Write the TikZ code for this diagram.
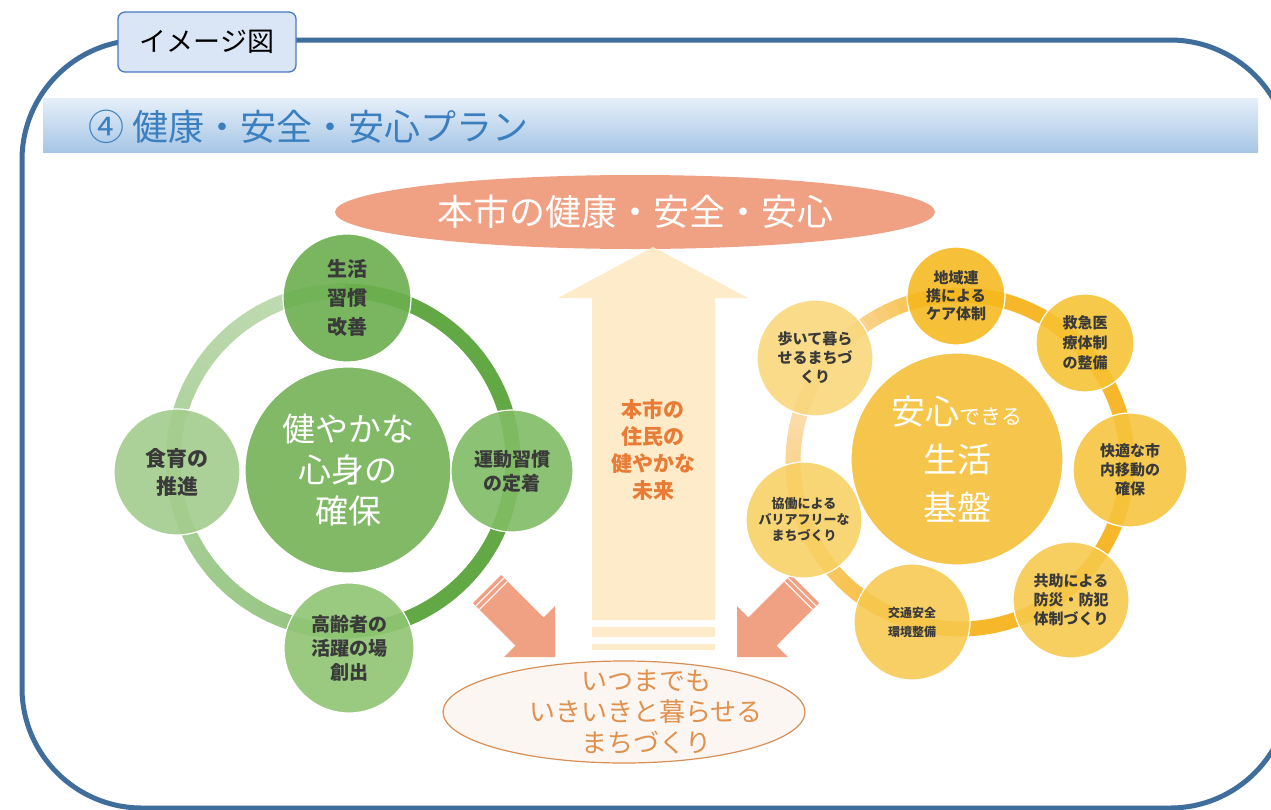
\documentclass[tikz,border=0pt]{standalone}
\usepackage{fontspec}
\setmainfont{Noto Sans CJK JP}
\usetikzlibrary{shapes.geometric}
\definecolor{frameblue}{HTML}{3F6E9C}
\definecolor{labelfill}{HTML}{DAE5F5}
\definecolor{labeledge}{HTML}{4A78C2}
\definecolor{titleblue}{HTML}{3B7FBE}
\definecolor{bannertop}{HTML}{E6EFF9}
\definecolor{bannerbot}{HTML}{A6C6E6}
\definecolor{salmon}{HTML}{F1A183}
\definecolor{arrowyel}{HTML}{FDEBC9}
\definecolor{arroworange}{HTML}{E87B35}
\definecolor{botfill}{HTML}{FBF6F2}
\definecolor{botedge}{HTML}{D98E55}
\definecolor{bottext}{HTML}{E0914E}
\definecolor{gdark}{HTML}{62A845}
\definecolor{gmid}{HTML}{93C47F}
\definecolor{glight}{HTML}{C3DDB6}
\definecolor{gcenfill}{HTML}{74B257}
\definecolor{gtopfill}{HTML}{6BAF4E}
\definecolor{grightfill}{HTML}{80BC64}
\definecolor{gbotfill}{HTML}{8FC573}
\definecolor{gleftfill}{HTML}{A4CD8D}
\definecolor{ystrong}{HTML}{F6B82A}
\definecolor{ypale}{HTML}{FCE2C0}
\definecolor{ybig}{HTML}{F5BE34}
\definecolor{ya}{HTML}{F5B81E}
\definecolor{yb}{HTML}{F6C232}
\definecolor{yc}{HTML}{F6C43C}
\definecolor{yd}{HTML}{F6C84A}
\definecolor{ye}{HTML}{F7C94F}
\definecolor{yf}{HTML}{F8D062}
\definecolor{yg}{HTML}{F9D77A}
\definecolor{nodetext}{HTML}{3A3A3A}
\tikzset{
  gnode/.style={circle, draw=white, line width=1.2pt, fill opacity=0.9, text opacity=1,
    text=nodetext, align=center, inner sep=0pt, font=\fontsize{20}{29}\selectfont\bfseries},
  ynode/.style={circle, draw=white, line width=1.2pt, fill opacity=0.88, text opacity=1,
    text=nodetext, align=center, inner sep=0pt, minimum size=114pt,
    font=\fontsize{15}{19}\selectfont\bfseries},
}
\begin{document}
\begin{tikzpicture}[x=1pt,y=-1pt]
\useasboundingbox (0,0) rectangle (1271,809);
\fill[white] (0,0) rectangle (1271,809);
% frame
\begin{scope}
\clip (0,0) rectangle (1271,809);
\draw[frameblue, line width=5pt, rounded corners=120pt] (22,40) rectangle (1290,808);
\end{scope}
% label
\node[draw=labeledge, line width=1.3pt, fill=labelfill, rounded corners=7pt,
  minimum width=178pt, minimum height=60pt, inner sep=0pt,
  font=\fontsize{27}{30}\selectfont] (lbl) at (207,42) {イメージ図};
% banner
\shade[top color=bannertop, bottom color=bannerbot] (43,98) rectangle (1258,152);
\node[anchor=west, text=titleblue, font=\fontsize{36}{38}\selectfont, inner sep=0pt]
  (title) at (88,127) {④ 健康・安全・安心プラン};
% top ellipse
\node[ellipse, fill=salmon, minimum width=600pt, minimum height=74pt, inner sep=0pt,
  text=white, font=\fontsize{36}{38}\selectfont] (goal) at (635,212) {本市の健康・安全・安心};
% up arrow
\fill[arrowyel] (592,620) -- (592,298) -- (558,298) -- (653,247) -- (748,298) -- (715,298) -- (715,620) -- cycle;
\fill[arrowyel] (592,627) rectangle (715,637);
\fill[arrowyel] (592,644) rectangle (715,650);
\node[text=arroworange, align=center, font=\fontsize{21}{27}\selectfont\bfseries] (future) at (653,450)
  {本市の\\住民の\\健やかな\\未来};
% diagonal arrows
\fill[salmon] (501.1,574.9) -- (543.6,617.4) -- (555,606) -- (555,657) -- (504,657) -- (515.4,645.6) -- (472.9,603.1) -- cycle;
\draw[white, line width=1pt] (504.0,577.8) -- (475.8,606.0);
\draw[white, line width=1pt] (507.5,581.3) -- (479.3,609.5);
\fill[salmon] (790.9,574.9) -- (748.4,617.4) -- (737,606) -- (737,657) -- (788,657) -- (776.6,645.6) -- (819.1,603.1) -- cycle;
\draw[white, line width=1pt] (788.0,577.8) -- (816.2,606.0);
\draw[white, line width=1pt] (784.5,581.3) -- (812.7,609.5);
% bottom ellipse
\node[ellipse, fill=botfill, draw=botedge, line width=1.2pt, minimum width=362pt, minimum height=102pt,
  inner sep=0pt] (town) at (624,712) {};
\node[text=bottext, align=center, font=\fontsize{26}{31}\selectfont, inner sep=0pt] (towntext)
  at ([xshift=22pt]town.center) {いつまでも\\いきいきと暮らせる\\まちづくり};
% ---------------- green cluster ----------------
\coordinate (gc) at (343,461);
\draw[gdark, line width=15pt] (gc) ++(-92:170) arc[start angle=-92, end angle=92, radius=170];
\foreach \i in {0,...,35} {
  \pgfmathsetmacro\a{90+5*\i}
  \pgfmathtruncatemacro\p{100-\i*100/35}
  \draw[gmid!\p!glight, line width=15pt] (gc) ++(\a:170) arc[start angle=\a, end angle=\a+5.6, radius=170];
}
\node[gnode, fill=gcenfill, minimum size=206pt, text=white, font=\fontsize{33}{41}\selectfont] (gcen) at (348,470)
  {健やかな\\心身の\\確保};
\node[gnode, fill=gtopfill, minimum size=128pt] (g1) at (347,298) {生活\\習慣\\改善};
\node[gnode, fill=grightfill, minimum size=122pt, font=\fontsize{19}{24}\selectfont\bfseries] (g2) at (512,471) {運動習慣\\の定着};
\node[gnode, fill=gbotfill, minimum size=130pt, font=\fontsize{19}{24}\selectfont\bfseries] (g3) at (349,648) {高齢者の\\活躍の場\\創出};
\node[gnode, fill=gleftfill, minimum size=126pt, font=\fontsize{21}{28}\selectfont\bfseries] (g4) at (177,472) {食育の\\推進};
% ---------------- yellow cluster ----------------
\coordinate (yc0) at (960,462);
\foreach \i in {0,...,12} {
  \pgfmathsetmacro\a{-144+4*\i}
  \pgfmathtruncatemacro\p{\i*100/12}
  \draw[ystrong!\p!ypale, line width=15pt] (yc0) ++(\a:167) arc[start angle=\a, end angle=\a+4.6, radius=167];
}
\draw[ystrong, line width=15pt] (yc0) ++(-93:167) arc[start angle=-93, end angle=101, radius=167];
\foreach \i in {0,...,28} {
  \pgfmathsetmacro\a{100+4*\i}
  \pgfmathtruncatemacro\p{100-\i*100/28}
  \draw[ystrong!\p!ypale, line width=15pt] (yc0) ++(\a:167) arc[start angle=\a, end angle=\a+4.6, radius=167];
}
\node[ynode, fill=ybig, minimum size=212pt, text=white, font=\fontsize{34}{48}\selectfont] (ycen) at (957,459)
  {安心{\fontsize{21}{24}\selectfont できる}\\生活\\基盤};
\node[ynode, fill=ya, minimum size=98pt, font=\fontsize{15}{18}\selectfont\bfseries] (y1) at (956,296) {地域連\\携による\\ケア体制};
\node[ynode, fill=yb, minimum size=98pt, font=\fontsize{15}{20}\selectfont\bfseries] (y2) at (1085,343) {救急医\\療体制\\の整備};
\node[ynode, fill=yc] (y3) at (1130,470) {快適な市\\内移動の\\確保};
\node[ynode, fill=yd, minimum size=116pt] (y4) at (1071,600) {共助による\\防災・防犯\\体制づくり};
\node[ynode, fill=ye, minimum size=116pt, font=\fontsize{12}{19}\selectfont\bfseries] (y5) at (912,622) {交通安全\\環境整備};
\node[ynode, fill=yf, minimum size=116pt, font=\fontsize{13}{16}\selectfont\bfseries] (y6) at (804,520) {協働による\\バリアフリーな\\まちづくり};
\node[ynode, fill=yg, minimum size=116pt] (y7) at (815,358) {歩いて暮ら\\せるまちづ\\くり};
\end{tikzpicture}
\end{document}
